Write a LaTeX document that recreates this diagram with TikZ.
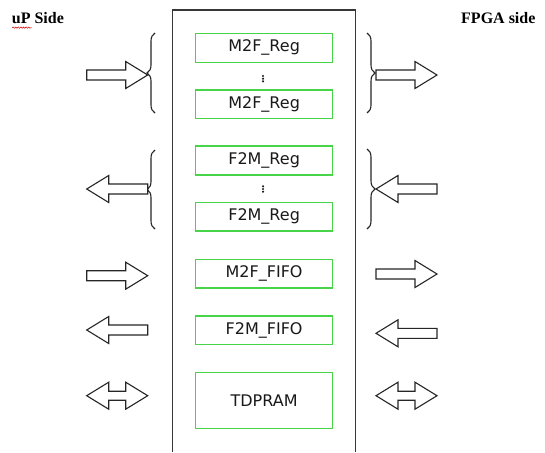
\documentclass[tikz,border=0pt]{standalone}
\usepackage{fontspec}
\newfontfamily\boxfont{DejaVu Sans}
\newfontfamily\headfont{Liberation Serif}
\usetikzlibrary{decorations.pathreplacing,decorations.pathmorphing}
\definecolor{boxgreen}{RGB}{72,212,72}
\definecolor{framegray}{RGB}{55,55,55}
\begin{document}
\begin{tikzpicture}[x=1pt,y=-1pt,
  regbox/.style={draw=boxgreen, line width=1.5pt, minimum width=137pt, inner sep=0pt,
    font=\boxfont\fontsize{16}{18}\selectfont, text=black!90},
  heading/.style={anchor=base west, inner sep=0pt, font=\headfont\bfseries\fontsize{16}{18}\selectfont},
  blockarrow/.style={draw=black!85, line width=1.1pt, fill=white, line join=miter},
  bracestyle/.style={draw=black!85, line width=1.1pt, decorate, decoration={brace, amplitude=8pt, aspect=0.5}},
  rarr/.pic={\draw[blockarrow] (0,-5) -- (39,-5) -- (39,-13.5) -- (61,0) -- (39,13.5) -- (39,5) -- (0,5) -- cycle;},
  darr/.pic={\draw[blockarrow] (0,0) -- (22,-13.5) -- (22,-4.5) -- (39,-4.5) -- (39,-13.5) -- (61,0) -- (39,13.5) -- (39,4.5) -- (22,4.5) -- (22,13.5) -- cycle;}
]
\fill[white] (0,0) rectangle (545,452);
\useasboundingbox (0,0) rectangle (545,452);

% headings
\node[heading] (uplab) at (11.7,24) {uP Side};
\node[heading] (fpgalab) at (461,24) {FPGA side};
\coordinate (sqa) at (12.3,27.6);
\coordinate (sqb) at (31.7,27.6);
\draw[red!85!black, line width=0.5pt, decorate, decoration={snake, amplitude=0.7pt, segment length=2.6pt}] (sqa) -- (sqb);

% main frame
\coordinate (fbl) at (172.5,452);
\coordinate (ftl) at (172.5,10);
\coordinate (ftr) at (355.5,10);
\coordinate (fbr) at (355.5,452);
\draw[framegray, line width=1.2pt] (fbl) -- (ftl) -- (ftr) -- (fbr);

% inner boxes
\node[regbox, minimum height=29pt] (m2fa) at (264.1,47.8) {M2F\_Reg};
\node[regbox, minimum height=28.5pt] (m2fb) at (264.1,104.2) {M2F\_Reg};
\node[regbox, minimum height=29pt] (f2ma) at (264.1,160.5) {F2M\_Reg};
\node[regbox, minimum height=28.5pt] (f2mb) at (264.1,216.8) {F2M\_Reg};
\node[regbox, minimum height=28.5pt] (m2ffifo) at (264.1,273.5) {M2F\_FIFO};
\node[regbox, minimum height=28.5pt] (f2mfifo) at (264.1,330) {F2M\_FIFO};
\node[regbox, minimum height=56pt] (tdpram) at (264.1,400.3) {TDPRAM};

% vertical dots
\foreach \yy in {76,78.7,81.3,186.3,189,191.7}
  \fill[black!90] (263,\yy) circle (1.2pt);

% braces
\coordinate (blta) at (155,113); \coordinate (bltb) at (155,33);
\coordinate (blma) at (155,229); \coordinate (blmb) at (155,150);
\coordinate (brta) at (367,33); \coordinate (brtb) at (367,113);
\coordinate (brma) at (367,149); \coordinate (brmb) at (367,229);
\draw[bracestyle] (blta) -- (bltb);
\draw[bracestyle] (blma) -- (blmb);
\draw[bracestyle] (brta) -- (brtb);
\draw[bracestyle] (brma) -- (brmb);

% block arrows
\pic at (86.7,75) {rarr};
\pic at (376,75) {rarr};
\pic[xscale=-1] at (147.7,189) {rarr};
\pic[xscale=-1] at (437,189) {rarr};
\pic at (86.7,275.7) {rarr};
\pic at (376,274) {rarr};
\pic[xscale=-1] at (147.7,330) {rarr};
\pic[xscale=-1] at (437,333.3) {rarr};
\pic at (86.7,395.7) {darr};
\pic at (376,395.7) {darr};
\end{tikzpicture}
\end{document}
